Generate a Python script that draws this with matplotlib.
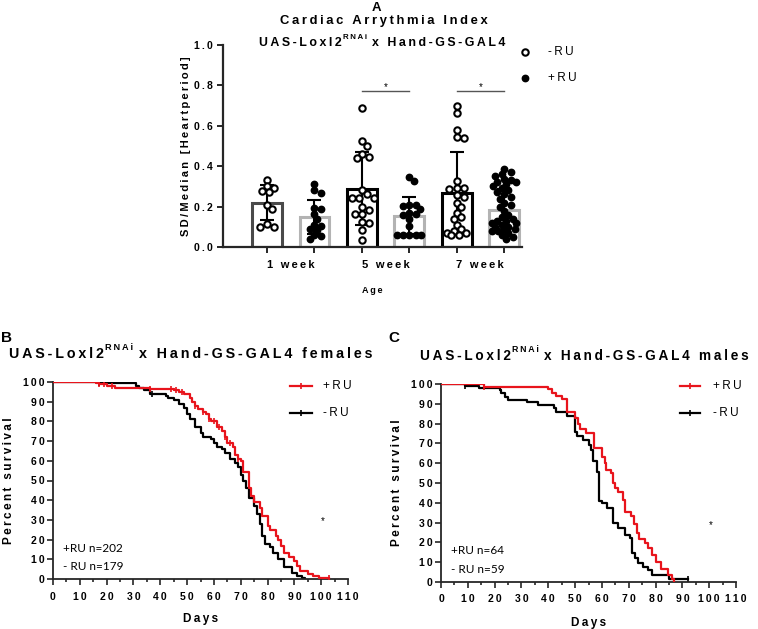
import matplotlib
matplotlib.use("Agg")
import matplotlib.pyplot as plt
import numpy as np

plt.rcParams['font.family'] = ['Liberation Sans', 'DejaVu Sans']

# ---------------- panel A: arrhythmia index ----------------
ages = ['1 week', '5 week', '7 week']
mean_minus = [0.22, 0.288, 0.265]
sd_minus = [0.088, 0.18, 0.207]
mean_plus = [0.15, 0.155, 0.183]
sd_plus = [0.085, 0.093, 0.102]

minus_1wk = [0.33, 0.29, 0.30, 0.27, 0.275, 0.21, 0.19, 0.115, 0.10, 0.10]
plus_1wk = [0.31, 0.28, 0.265, 0.195, 0.19, 0.165, 0.14, 0.11, 0.105, 0.09,
            0.085, 0.06, 0.055, 0.04]
minus_5wk = [0.69, 0.525, 0.50, 0.46, 0.445, 0.44, 0.28, 0.26, 0.245, 0.245,
             0.245, 0.20, 0.185, 0.165, 0.165, 0.125, 0.12, 0.085, 0.035]
plus_5wk = [0.345, 0.325, 0.21, 0.205, 0.21, 0.19, 0.17, 0.165, 0.16, 0.14,
            0.105, 0.06, 0.06, 0.06, 0.06, 0.06]
minus_7wk = [0.70, 0.665, 0.58, 0.54, 0.545, 0.325, 0.29, 0.29, 0.285, 0.255,
             0.25, 0.22, 0.20, 0.17, 0.15, 0.14, 0.11, 0.09, 0.08, 0.07,
             0.07, 0.06, 0.06]
plus_7wk = [0.385, 0.37, 0.36, 0.35, 0.335, 0.33, 0.32, 0.32, 0.31, 0.30,
            0.29, 0.28, 0.27, 0.26, 0.25, 0.24, 0.22, 0.21, 0.20, 0.18,
            0.16, 0.15, 0.14, 0.13, 0.13, 0.12, 0.12, 0.11, 0.10, 0.10,
            0.09, 0.09, 0.08, 0.08, 0.07, 0.06, 0.05, 0.04]

# ---------------- panels B and C: survival ----------------
fem_plus_days = [0, 16, 17, 20, 23, 36, 45, 47, 49, 51, 52, 53, 54, 56, 57, 58, 59,
                 61, 63, 64, 65, 67, 68, 69, 70, 71, 73, 74, 75, 77, 78, 80, 81, 83,
                 84, 85, 86, 88, 90, 91, 92, 95, 97, 99, 103]
fem_plus_surv = [100, 99.5, 99, 98, 97, 96.5, 96, 95, 94, 92, 90, 88, 86.5, 85, 84,
                 81, 80, 77, 75, 72, 69, 67, 63, 61, 60, 54.5, 46, 42, 39, 36, 32,
                 27, 25, 22, 20, 17, 13, 11, 9, 6.5, 4, 2.5, 1.5, 0.7, 0.7]
fem_minus_days = [0, 17, 31, 32, 34, 36, 42, 43, 45, 47, 49, 50, 51, 53, 55, 56, 59,
                  60, 61, 63, 64, 66, 68, 69, 70, 71, 72, 73, 75, 76, 77, 78, 79, 81,
                  82, 84, 86, 89, 91, 93, 94]
fem_minus_surv = [100, 99.5, 98, 97, 96, 94, 93, 92, 91, 89, 87, 84, 81, 77, 74, 72,
                  71, 69, 67, 66, 64, 61, 59, 57, 53, 50, 46, 41, 37, 33, 28, 22, 18,
                  16, 13, 10, 6, 3, 1.5, 0.5, 0]
fem_plus_censor = [17, 19, 22, 36, 44, 46, 48, 53, 56, 58, 60, 62, 64, 66, 69, 103]
fem_minus_censor = [17, 37]

male_plus_days = [0, 16, 40, 41.5, 43, 45, 47, 50, 51, 52, 54, 57, 60, 61, 61.5, 63.5,
                  64, 65, 66, 68, 68.5, 71, 72, 73, 74, 76, 77, 78.5, 80, 82, 84.5,
                  86, 87]
male_plus_surv = [100, 98.5, 97.5, 95.5, 94, 92.5, 86, 83, 80, 77.5, 75.5, 67.5, 63,
                  60, 56.5, 55, 50, 47.5, 45.5, 41.5, 35.5, 33.5, 29.5, 24.5, 21.5,
                  19.5, 17, 13.5, 10, 6.5, 3.5, 1.5, 0]
male_minus_days = [0, 9, 14, 22, 22.5, 23.7, 25, 32, 36, 42, 43, 47, 50, 50.6, 53, 55,
                   56, 56.8, 58, 59, 60, 61.8, 64.2, 66, 68.6, 70.5, 71.1, 72.3, 73.6,
                   75.4, 77.3, 78.5, 85, 92]
male_minus_surv = [100, 99, 97.8, 97, 95.3, 93.6, 92, 90.7, 89.4, 87.7, 86, 84, 76,
                   73.5, 71.5, 69, 66.5, 61, 55.5, 41, 40, 37.5, 30, 27.5, 23.5, 22,
                   14.5, 12, 9.5, 7.5, 6, 3.5, 1.7, 1.7]
male_plus_censor = [16]
male_minus_censor = [9, 92]

W, H = 758, 629
RED = '#e8141c'
AXC = '#262626'


def fx(px):
    return px / W


def fy(py):
    return 1 - py / H


def spaced(s):
    return '\u2009'.join(s)


def rich_line(fig, x, base, parts, ha='center'):
    # parts: (text, fontsize, rise in px, gap after in px)
    r = fig.canvas.get_renderer()
    items, total = [], 0
    for txt, size, rise, gap in parts:
        t = fig.text(0, 0, spaced(txt), fontsize=size, fontweight='bold',
                     va='baseline', ha='left', color='black')
        w = t.get_window_extent(r).width
        items.append((t, w, rise, gap))
        total += w + gap
    x0 = x - total / 2 if ha == 'center' else x
    for t, w, rise, gap in items:
        t.set_position((fx(x0), fy(base - rise)))
        x0 += w + gap


def swarm(vals, xc, px_x, px_y, d, half_w):
    # simple beeswarm in pixel space, kept inside the bar
    order = np.argsort(vals)[::-1]
    placed = []
    xs = np.zeros(len(vals))
    for i in order:
        y = vals[i] * px_y
        best = None
        for k in range(0, 40):
            cands = [0.0] if k == 0 else [k * d * 0.4, -k * d * 0.4]
            for c in cands:
                if abs(c) > half_w:
                    continue
                if all((c - a) ** 2 + (y - b) ** 2 >= d * d for a, b in placed):
                    best = c
                    break
            if best is not None:
                break
        if best is None:
            # no free slot: take the least crowded spot
            grid = np.linspace(-half_w, half_w, 9)
            score = [min([(g - a) ** 2 + (y - b) ** 2 for a, b in placed] + [1e9])
                     for g in grid]
            best = grid[int(np.argmax(score))]
        placed.append((best, y))
        xs[i] = best
    return xc + xs / px_x


fig = plt.figure(figsize=(W / 100, H / 100), dpi=100)

# ---------- A ----------
axA = fig.add_axes([fx(223), fy(247), fx(522) - fx(223), fy(45) - fy(247)])
pos = np.arange(6)
xlo, xhi = -0.93, 5.38
axA.set_xlim(xlo, xhi)
axA.set_ylim(0, 1.0)
px_x = (522 - 223) / (xhi - xlo)
px_y = 202.0

minus_pts = [minus_1wk, minus_5wk, minus_7wk]
plus_pts = [plus_1wk, plus_5wk, plus_7wk]
minus_edges = ['#4a4a4a', 'black', 'black']
for g in range(3):
    xm, xp = pos[2 * g], pos[2 * g + 1]
    axA.bar(xm, mean_minus[g], width=0.63, color='white', edgecolor=minus_edges[g],
            linewidth=2.2, zorder=1)
    axA.bar(xp, mean_plus[g], width=0.63, color='white', edgecolor='#b3b3b3',
            linewidth=2.2, zorder=1)
    axA.errorbar([xm], [mean_minus[g]], yerr=[sd_minus[g]], fmt='none', ecolor='black',
                 elinewidth=1.5, capsize=5, capthick=1.5, zorder=2)
    axA.errorbar([xp], [mean_plus[g]], yerr=[sd_plus[g]], fmt='none', ecolor='black',
                 elinewidth=1.5, capsize=5, capthick=1.5, zorder=2)
    vm = np.array(minus_pts[g])
    vp = np.array(plus_pts[g])
    axA.plot(swarm(vm, xm, px_x, px_y, 6.0, 12), vm, 'o', ms=4.6, mfc='white',
             mec='black', mew=1.5, ls='none', zorder=3)
    axA.plot(swarm(vp, xp, px_x, px_y, 5.5, 12), vp, 'o', ms=4.6, mfc='black',
             mec='black', ls='none', zorder=3)

# significance bars
for a, b in [(2, 3), (4, 5)]:
    axA.plot([pos[a], pos[b]], [0.77, 0.77], color='#555555', lw=1.0)
    axA.text((pos[a] + pos[b]) / 2, 0.765, '*', ha='center', va='bottom', fontsize=7)

for s in ['top', 'right']:
    axA.spines[s].set_visible(False)
for s in ['left', 'bottom']:
    axA.spines[s].set_linewidth(1.6)
    axA.spines[s].set_color(AXC)
axA.set_yticks(np.arange(0, 1.01, 0.2))
axA.set_yticklabels([spaced('%.1f' % v) for v in np.arange(0, 1.01, 0.2)],
                    fontsize=7.5, fontweight='bold')
axA.set_xticks(pos)
axA.set_xticklabels([])
axA.set_xticks([0.5, 2.5, 4.5], minor=True)
axA.set_xticklabels([spaced(a) for a in ages], minor=True, fontsize=8, fontweight='bold')
axA.tick_params(axis='x', which='minor', length=0, pad=9)
axA.tick_params(axis='both', which='major', direction='out', length=4.5, width=1.4,
                color=AXC)
axA.tick_params(axis='y', pad=3)
axA.text(-0.125, 0.5, spaced('SD/Median [Heartperiod]'), rotation=90, ha='center',
         va='center', fontsize=8, fontweight='bold', transform=axA.transAxes)
axA.text(0.5, -0.213, spaced('Age'), ha='center', va='center', fontsize=6.5,
         fontweight='bold', transform=axA.transAxes)

# legend A
axA.plot([1.01], [0.965], 'o', ms=4.6, mfc='white', mec='black', mew=1.5,
         transform=axA.transAxes, clip_on=False)
axA.plot([1.01], [0.837], 'o', ms=4.6, mfc='black', mec='black',
         transform=axA.transAxes, clip_on=False)
axA.text(1.087, 0.965, spaced('-RU'), va='center', fontsize=8.5, transform=axA.transAxes)
axA.text(1.087, 0.837, spaced('+RU'), va='center', fontsize=8.5, transform=axA.transAxes)

fig.text(fx(376), fy(11), 'A', fontsize=9.5, fontweight='bold', ha='center',
         va='baseline')
rich_line(fig, 384, 24, [('Cardiac Arrythmia Index', 9.4, 0, 0)])
rich_line(fig, 382, 46.5, [('UAS-Loxl2', 8.9, 0, 1), ('RNAi', 5.7, 7.5, 5),
                           ('x Hand-GS-GAL4', 8.9, 0, 0)])


# ---------- B and C ----------
def step_val(days, surv, d):
    i = np.searchsorted(days, d, side='right') - 1
    return surv[max(i, 0)]


def survival_panel(rect, plus_d, plus_s, minus_d, minus_s, plus_c, minus_c,
                   n_plus, n_minus, leg_x, leg_y, star_y):
    ax = fig.add_axes(rect)
    ax.step(minus_d, minus_s, where='post', color='black', lw=1.6, zorder=2)
    ax.step(plus_d, plus_s, where='post', color=RED, lw=1.6, zorder=3)
    ax.plot(minus_c, [step_val(minus_d, minus_s, d) for d in minus_c], ls='none',
            marker='|', ms=4, mew=1.2, color='black', zorder=2)
    ax.plot(plus_c, [step_val(plus_d, plus_s, d) for d in plus_c], ls='none',
            marker='|', ms=4, mew=1.2, color=RED, zorder=3)
    ax.set_xlim(0, 110)
    ax.set_ylim(0, 100)
    for s in ['top', 'right']:
        ax.spines[s].set_visible(False)
    for s in ['left', 'bottom']:
        ax.spines[s].set_linewidth(1.3)
        ax.spines[s].set_color(AXC)
    ax.set_xticks(np.arange(0, 111, 10))
    ax.set_xticks(np.arange(5, 111, 10), minor=True)
    ax.set_xticklabels([spaced(str(v)) for v in range(0, 111, 10)], fontsize=7.5,
                       fontweight='bold')
    ax.set_yticks(np.arange(0, 101, 10))
    ax.set_yticklabels([spaced(str(v)) for v in range(0, 101, 10)], fontsize=7.5,
                       fontweight='bold')
    ax.tick_params(axis='both', which='major', direction='out', length=4, width=1.2,
                   color=AXC)
    ax.tick_params(axis='x', which='minor', direction='out', length=2.5, width=1.2,
                   color=AXC)
    ax.tick_params(axis='x', which='major', pad=5)
    ax.tick_params(axis='y', pad=2)
    ax.text(-0.15, 0.5, spaced('Percent survival'), rotation=90, ha='center',
            va='center', fontsize=8.5, fontweight='bold', transform=ax.transAxes)
    ax.text(0.5, -0.205, spaced('Days'), ha='center', va='center', fontsize=8.5,
            fontweight='bold', transform=ax.transAxes)
    # legend
    for yy, col, lab in [(leg_y[0], RED, '+RU'), (leg_y[1], 'black', '-RU')]:
        ax.plot([leg_x[0], leg_x[1]], [yy, yy], color=col, lw=1.6,
                transform=ax.transAxes, clip_on=False)
        ax.plot([(leg_x[0] + leg_x[1]) / 2], [yy], marker='|', ms=4, mew=1.2,
                color=col, transform=ax.transAxes, clip_on=False)
        ax.text(leg_x[2], yy, spaced(lab), va='center', fontsize=8.5,
                transform=ax.transAxes)
    ax.text(0.034, 0.157, '+RU n=%d' % n_plus, fontsize=8.5, family='Lato',
            va='center', transform=ax.transAxes)
    ax.text(0.034, 0.061, '- RU n=%d' % n_minus, fontsize=8.5, family='Lato',
            va='center', transform=ax.transAxes)
    ax.text(0.915, star_y, '*', fontsize=7, ha='center', va='center',
            transform=ax.transAxes)
    return ax


survival_panel([fx(53), fy(579), fx(348) - fx(53), fy(382) - fy(579)],
               fem_plus_days, fem_plus_surv, fem_minus_days, fem_minus_surv,
               fem_plus_censor, fem_minus_censor, 202, 179,
               (0.803, 0.878, 0.915), (0.98, 0.843), 0.295)
survival_panel([fx(441), fy(582), fx(736) - fx(441), fy(384) - fy(582)],
               male_plus_days, male_plus_surv, male_minus_days, male_minus_surv,
               male_plus_censor, male_minus_censor, 64, 59,
               (0.81, 0.878, 0.922), (0.99, 0.854), 0.285)

fig.text(fx(6), fy(342), 'B', fontsize=11, fontweight='bold', ha='center', va='baseline')
fig.text(fx(394), fy(342), 'C', fontsize=11, fontweight='bold', ha='center', va='baseline')
rich_line(fig, 191, 358, [('UAS-Loxl2', 10.3, 0, 1), ('RNAi', 6.6, 8, 6),
                          ('x Hand-GS-GAL4 females', 10.3, 0, 0)])
rich_line(fig, 584, 360, [('UAS-Loxl2', 9.8, 0, 1), ('RNAi', 6.3, 8, 5),
                          ('x Hand-GS-GAL4 males', 9.8, 0, 0)])

fig.savefig('out.png', dpi=100)
